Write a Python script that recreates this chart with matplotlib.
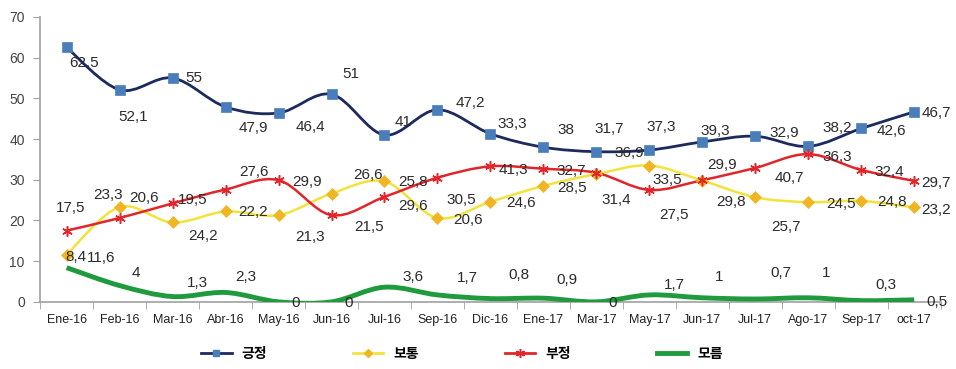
import matplotlib
matplotlib.use('Agg')
import matplotlib.pyplot as plt
from matplotlib.path import Path
from matplotlib.patches import PathPatch
from matplotlib.lines import Line2D

# data
months = ['Ene-16', 'Feb-16', 'Mar-16', 'Abr-16', 'May-16', 'Jun-16', 'Jul-16', 'Sep-16',
          'Dic-16', 'Ene-17', 'Mar-17', 'May-17', 'Jun-17', 'Jul-17', 'Ago-17', 'Sep-17', 'oct-17']
positive = [62.5, 52.1, 55, 47.9, 46.4, 51, 41, 47.2, 41.3, 38, 36.9, 37.3, 39.3, 40.7, 38.2, 42.6, 46.7]
neutral = [11.6, 23.3, 19.5, 22.2, 21.3, 26.6, 29.6, 20.6, 24.6, 28.5, 31.4, 33.5, 29.8, 25.7, 24.5, 24.8, 23.2]
negative = [17.5, 20.6, 24.2, 27.6, 29.9, 21.3, 25.8, 30.5, 33.3, 32.7, 31.7, 27.5, 29.9, 32.9, 36.3, 32.4, 29.7]
unknown = [8.4, 4, 1.3, 2.3, 0, 0, 3.6, 1.7, 0.8, 0.9, 0, 1.7, 1, 0.7, 1, 0.3, 0.5]

# data labels as printed in the chart (they sit a bit off their points)
positive_text = ['62,5', '52,1', '55', '47,9', '46,4', '51', '41', '47,2', '33,3', '38', '31,7',
                 '37,3', '39,3', '32,9', '38,2', '42,6', '46,7']
neutral_text = ['11,6', '23,3', '24,2', '22,2', '21,3', '26,6', '29,6', '20,6', '24,6', '28,5', '36,9',
                '33,5', '29,8', '25,7', '24,5', '24,8', '23,2']
negative_text = ['17,5', '20,6', '19,5', '27,6', '29,9', '21,5', '25,8', '30,5', '41,3', '32,7', '31,4',
                 '27,5', '29,9', '40,7', '36,3', '32,4', '29,7']
unknown_text = ['8,4', '4', '1,3', '2,3', '0', '0', '3,6', '1,7', '0,8', '0,9', '0',
                '1,7', '1', '0,7', '1', '0,3', '0,5']

series_names = ['긍정', '보통', '부정', '모름']

# label offsets in pixels (right, down)
positive_off = [(17, 16), (14, 27), (21, 0), (28, 21), (32, 14), (19, -20), (19, -13), (33, -7), (22, -10),
                (23, -17), (13, -23), (12, -23), (13, -11), (29, -3), (29, -18), (30, 3), (22, 1)]
neutral_off = [(34, 3), (-12, -12), (30, 14), (28, 1), (32, 22), (37, -19), (29, 25), (31, 2), (31, 1),
               (29, 2), (33, -21), (18, 14), (29, 21), (31, 30), (33, 2), (31, 1), (22, 3)]
negative_off = [(4, -23), (24, -20), (20, -3), (28, -18), (29, 2), (38, 12), (29, -15), (24, 22), (23, 4),
                (28, 2), (20, 27), (25, 25), (20, -15), (34, 10), (29, 3), (28, 2), (22, 2)]
unknown_off = [(9, -11), (16, -13), (25, -14), (20, -15), (17, 1), (17, 1), (29, -10), (30, -17), (29, -24),
               (24, -18), (16, 1), (25, -10), (17, -21), (26, -26), (18, -25), (25, -16), (23, 2)]


def smooth_path(xs, ys):
    # excel style smoothed line, drawn as bezier segments through the points
    pts = list(zip(xs, ys))
    n = len(pts)
    verts = [pts[0]]
    codes = [Path.MOVETO]
    for i in range(n - 1):
        p0 = pts[max(i - 1, 0)]
        p1 = pts[i]
        p2 = pts[i + 1]
        p3 = pts[min(i + 2, n - 1)]
        c1 = (p1[0] + (p2[0] - p0[0]) / 6, p1[1] + (p2[1] - p0[1]) / 6)
        c2 = (p2[0] - (p3[0] - p1[0]) / 6, p2[1] - (p3[1] - p1[1]) / 6)
        verts += [c1, c2, p2]
        codes += [Path.CURVE4] * 3
    return Path(verts, codes)


fig = plt.figure(figsize=(9.56, 3.69), dpi=100)
ax = fig.add_axes([0.042, 0.182, 0.942, 0.772])

x = list(range(len(months)))

star = (6, 2, 0)
styles = [
    (positive, positive_text, positive_off, '#1c2a5e', 2.0, 's', '#4a7ebb', 7, 0.5),
    (neutral, neutral_text, neutral_off, '#f2e33c', 1.8, 'D', '#f0b522', 6, 0.5),
    (negative, negative_text, negative_off, '#e0262a', 1.8, star, '#e0262a', 7.5, 1.1),
    (unknown, unknown_text, unknown_off, '#1f9a3c', 3.5, None, None, 0, 0),
]

for vals, texts, offs, lc, lw, mk, mc, ms, mew in styles:
    ax.add_patch(PathPatch(smooth_path(x, vals), facecolor='none', edgecolor=lc, lw=lw, zorder=3))
    if mk is not None:
        ax.plot(x, vals, ls='none', marker=mk, color=mc, markersize=ms, markeredgewidth=mew,
                markeredgecolor=mc, zorder=4)
    for xi, v, t, (dx, dy) in zip(x, vals, texts, offs):
        ax.annotate(t, (xi, v), xytext=(dx, -dy), textcoords='offset pixels',
                    ha='center', va='center', fontsize=11, color='#2b2b2b',
                    family='Liberation Sans', zorder=5)

ax.set_xlim(-0.5, len(months) - 0.5)
ax.set_ylim(0, 70)
ax.set_yticks(range(0, 71, 10))
ax.set_xticks(x)
ax.set_xticklabels(months, fontsize=9, color='#222222', family=['Liberation Sans Narrow', 'Liberation Sans'])
ax.set_xticks([i + 0.5 for i in range(-1, len(months))], minor=True)
ax.tick_params(axis='x', which='major', length=0, pad=9)
ax.tick_params(axis='x', which='minor', length=5, color='#a0a0a0', direction='out')
ax.tick_params(axis='y', length=5, color='#a0a0a0', labelsize=10, labelcolor='#444444', pad=6)
for lab in ax.get_yticklabels():
    lab.set_family('Liberation Sans')
for s in ['top', 'right']:
    ax.spines[s].set_visible(False)
for s in ['left', 'bottom']:
    ax.spines[s].set_color('#a0a0a0')
    ax.spines[s].set_linewidth(1.2)

handles = [
    Line2D([], [], color='#1c2a5e', lw=2, marker='s', markerfacecolor='#4a7ebb', markeredgecolor='#4a7ebb', markersize=5),
    Line2D([], [], color='#f2e33c', lw=2, marker='D', markerfacecolor='#f0b522', markeredgecolor='#f0b522', markersize=4.5),
    Line2D([], [], color='#e0262a', lw=2, marker=star, markeredgecolor='#e0262a', markersize=6.5, markeredgewidth=1.1),
    Line2D([], [], color='#1f9a3c', lw=3.5),
]
fig.legend(handles, series_names, loc='center', bbox_to_anchor=(0.483, 0.04), ncol=4, frameon=False,
           handlelength=2.2, columnspacing=6.2, handletextpad=0.7,
           prop={'family': ['Noto Sans CJK KR', 'DejaVu Sans'], 'size': 10, 'weight': 'bold'})

fig.savefig('out.png', dpi=100)
